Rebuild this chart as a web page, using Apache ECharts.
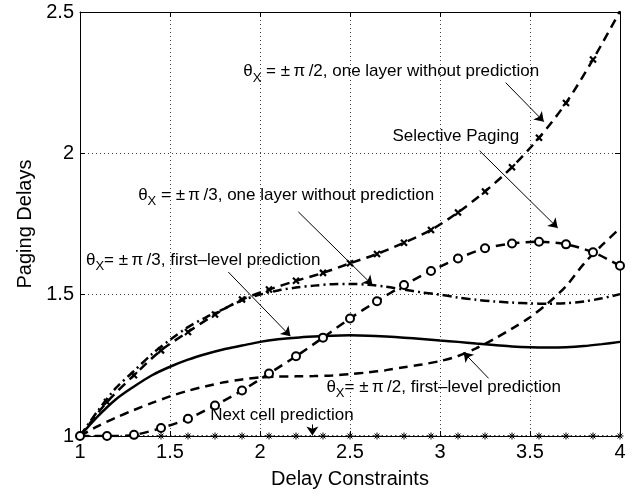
<!DOCTYPE html>
<html><head><meta charset="utf-8">
<script src="https://cdn.jsdelivr.net/npm/echarts@6/dist/echarts.min.js"></script>
<style>html,body{margin:0;padding:0;background:#fff}#c{width:642px;height:497px}</style>
</head><body><div id="c"></div>
<script>
// ---- data ----
const xMarks = [1, 1.15, 1.3, 1.45, 1.6, 1.75, 1.9, 2.05, 2.2, 2.35, 2.5, 2.65, 2.8, 2.95, 3.1, 3.25, 3.4, 3.55, 3.7, 3.85, 4.0];
const pi2OneLayer = [1.0, 1.12, 1.215, 1.303, 1.368, 1.43, 1.483, 1.518, 1.549, 1.577, 1.611, 1.644, 1.684, 1.729, 1.791, 1.865, 1.951, 2.055, 2.178, 2.332, 2.503];
const selectivePaging = [1.0, 1.0, 1.004, 1.028, 1.061, 1.108, 1.161, 1.221, 1.282, 1.348, 1.416, 1.477, 1.534, 1.584, 1.628, 1.664, 1.681, 1.687, 1.678, 1.65, 1.602];
const nextCell = [1, 1, 1, 1, 1, 1, 1, 1, 1, 1, 1, 1, 1, 1, 1, 1, 1, 1, 1, 1, 1];
const xFine = [1.0, 1.1, 1.2, 1.3, 1.4, 1.5, 1.6, 1.7, 1.8, 1.9, 2.0, 2.1, 2.2, 2.3, 2.4, 2.5, 2.6, 2.7, 2.8, 2.9, 3.0, 3.1, 3.2, 3.3, 3.4, 3.5, 3.6, 3.7, 3.8, 3.9, 4.0];
const pi3OneLayer = [1.0, 1.09, 1.17, 1.23, 1.29, 1.34, 1.385, 1.42, 1.45, 1.48, 1.50, 1.515, 1.525, 1.532, 1.537, 1.538, 1.535, 1.528, 1.518, 1.508, 1.5, 1.49, 1.482, 1.476, 1.472, 1.469, 1.468, 1.47, 1.476, 1.487, 1.502];
const pi3FirstLevel = [1.0, 1.07, 1.13, 1.175, 1.215, 1.245, 1.27, 1.29, 1.307, 1.32, 1.333, 1.342, 1.348, 1.352, 1.355, 1.356, 1.355, 1.352, 1.348, 1.343, 1.338, 1.333, 1.327, 1.322, 1.317, 1.314, 1.313, 1.314, 1.318, 1.325, 1.333];
const pi2FirstLevel = [1.0, 1.035, 1.065, 1.092, 1.117, 1.14, 1.16, 1.176, 1.19, 1.2, 1.207, 1.21, 1.211, 1.212, 1.214, 1.219, 1.225, 1.233, 1.243, 1.253, 1.265, 1.283, 1.31, 1.343, 1.38, 1.42, 1.47, 1.53, 1.61, 1.675, 1.735];
const xTicks = {min: 1, max: 4, interval: 0.5};
const yTicks = {min: 1, max: 2.5, interval: 0.5};
const xLabel = 'Delay Constraints';
const yLabel = 'Paging Delays';
// annotations: text, text anchor (data), arrow from, arrow to
const annotations = [
  {sub: true, pre: 'θ', rest: ' = \u00b1\u2009π\u2009/2, one layer without prediction', at: [1.907, 2.289], from: [3.365, 2.25], to: [3.577, 2.112]},
  {sub: false, rest: 'Selective Paging', at: [2.736, 2.059], from: [3.22, 2.009], to: [3.654, 1.736]},
  {sub: true, pre: 'θ', rest: ' = \u00b1\u2009π\u2009/3, one layer without prediction', at: [1.323, 1.853], from: [2.213, 1.793], to: [2.625, 1.534]},
  {sub: true, pre: 'θ', rest: '= \u00b1\u2009π\u2009/3, first\u2013level prediction', at: [1.033, 1.622], from: [1.824, 1.58], to: [2.169, 1.353]},
  {sub: true, pre: 'θ', rest: '= \u00b1\u2009π\u2009/2, first\u2013level prediction', at: [2.369, 1.172], from: [3.27, 1.204], to: [3.131, 1.296]},
  {sub: false, rest: 'Next cell prediction', at: [1.723, 1.073], from: [2.291, 1.041], to: [2.291, 1.002]}
];

const FONT = '"Liberation Sans", Arial, Helvetica, sans-serif';
const zip = (xs, ys) => xs.map((x, i) => [x, ys[i]]);
const crossPath = 'path://M0,0L10,10M10,0L0,10';
const starPath = 'path://M5,0L5,10M0,5L10,5M1.5,1.5L8.5,8.5M8.5,1.5L1.5,8.5';

const chart = echarts.init(document.getElementById('c'), null, {renderer: 'canvas'});
const axisCommon = {
  type: 'value',
  axisLine: {show: true, lineStyle: {color: '#000', width: 1}},
  axisTick: {show: true, inside: true, length: 5, lineStyle: {color: '#000'}},
};
const option = {
  animation: false,
  backgroundColor: '#fff',
  grid: {left: 80, right: 22, top: 12, bottom: 61, show: false},
  xAxis: [
    Object.assign({}, axisCommon, xTicks, {
      position: 'bottom', name: xLabel, nameLocation: 'middle', nameGap: 33,
      nameTextStyle: {fontFamily: FONT, fontSize: 20, color: '#000'},
      axisLabel: {fontFamily: FONT, fontSize: 20, color: '#000', margin: 6},
      splitLine: {show: true, lineStyle: {color: '#444', type: [1, 3], width: 1}}
    }),
    Object.assign({}, axisCommon, xTicks, {position: 'top', axisLabel: {show: false}, splitLine: {show: false}})
  ],
  yAxis: [
    Object.assign({}, axisCommon, yTicks, {
      position: 'left', name: yLabel, nameLocation: 'middle', nameGap: 45,
      nameTextStyle: {fontFamily: FONT, fontSize: 20, color: '#000'},
      axisLabel: {fontFamily: FONT, fontSize: 20, color: '#000', margin: 6},
      splitLine: {show: true, lineStyle: {color: '#444', type: [1, 3], width: 1}}
    }),
    Object.assign({}, axisCommon, yTicks, {position: 'right', axisLabel: {show: false}, splitLine: {show: false}})
  ],
  series: [
    {name: 'next', type: 'line', data: zip(xMarks, nextCell), symbol: starPath, symbolSize: 7,
     itemStyle: {color: '#000', borderColor: '#000', borderWidth: 1}, lineStyle: {color: '#000', width: 1.5, type: [1.5, 3]}, z: 2},
    {name: 'pi2first', type: 'line', data: zip(xFine, pi2FirstLevel), smooth: 0.3, showSymbol: false, symbol: 'none',
     lineStyle: {color: '#000', width: 2.5, type: [9, 6]}, z: 3},
    {name: 'pi3first', type: 'line', data: zip(xFine, pi3FirstLevel), smooth: 0.3, showSymbol: false, symbol: 'none',
     lineStyle: {color: '#000', width: 2.5, type: 'solid'}, z: 3},
    {name: 'pi3one', type: 'line', data: zip(xFine, pi3OneLayer), smooth: 0.3, showSymbol: false, symbol: 'none',
     lineStyle: {color: '#000', width: 2.5, type: [9, 4, 2, 4]}, z: 3},
    {name: 'pi2one', type: 'line', data: zip(xMarks, pi2OneLayer), smooth: 0.3, symbol: crossPath, symbolSize: 6,
     itemStyle: {color: '#000', borderColor: '#000', borderWidth: 2.2}, lineStyle: {color: '#000', width: 2.5, type: [9, 6]}, z: 4},
    {name: 'selective', type: 'line', data: zip(xMarks, selectivePaging), smooth: 0.3, symbol: 'emptyCircle', symbolSize: 8,
     itemStyle: {color: '#000', borderColor: '#000', borderWidth: 2.2}, lineStyle: {color: '#000', width: 2.5, type: [9, 6]}, z: 4},
    {name: 'arrows', type: 'line', data: [], silent: true,
     markLine: {silent: true, symbol: ['none', 'arrow'], symbolSize: 9, label: {show: false},
       lineStyle: {color: '#000', width: 1, type: 'solid'},
       data: annotations.map(a => [{coord: a.from}, {coord: a.to}])}, z: 5}
  ]
};
chart.setOption(option);

// annotation texts placed through the chart's own coordinate conversion
const graphics = annotations.map(a => {
  const p = chart.convertToPixel({xAxisIndex: 0, yAxisIndex: 0}, a.at);
  const text = a.sub ? '{t|' + a.pre + '}{s|X}{t|' + a.rest + '}' : '{t|' + a.rest + '}';
  return {
    type: 'text', x: p[0], y: p[1], z: 10,
    style: {
      text: text, fill: '#000', verticalAlign: 'middle', align: 'left',
      rich: {
        t: {fontFamily: FONT, fontSize: 17, fill: '#000', color: '#000'},
        s: {fontFamily: FONT, fontSize: 13, fill: '#000', color: '#000', padding: [13, 0, 0, 0]}
      }
    }
  };
});
chart.setOption({graphic: graphics});
</script>
</body></html>
